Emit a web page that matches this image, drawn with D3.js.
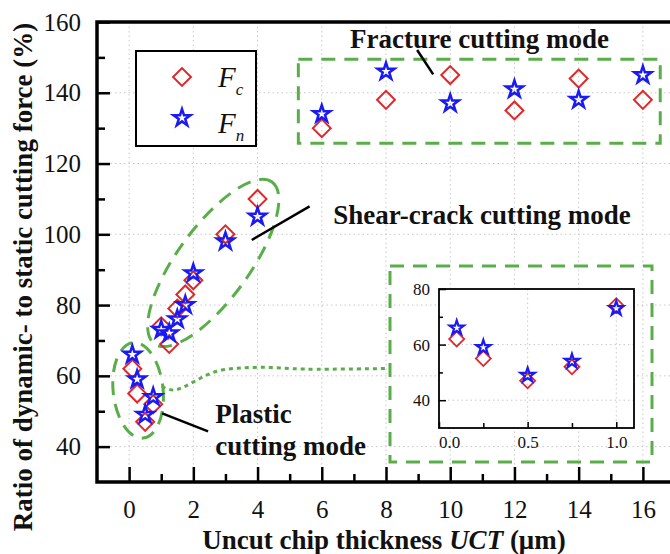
<!DOCTYPE html>
<meta charset="utf-8">
<style>
body { margin: 0; background: #fff; }
svg { font-family: "Liberation Serif", "Times New Roman", serif; }
.grid line { stroke: #c8c8c8; stroke-width: 1; stroke-dasharray: 1.5,3; }
.green { fill: none; stroke: #5aae4a; stroke-width: 3; stroke-dasharray: 14,9; }
.note { font-size: 27px; font-weight: bold; fill: #111; }
.pointer { stroke: #000; stroke-width: 2.5; }
</style>
<svg width="670" height="554"></svg>
<script src="https://d3js.org/d3.v7.min.js"></script>
<script>
// uncut chip thickness (µm) and dynamic/static force ratio (%)
var uct = [0.1, 0.25, 0.5, 0.75, 1, 1.25, 1.5, 1.75, 2, 3, 4, 6, 8, 10, 12, 14, 16];
var fc  = [62, 55, 47, 52, 74, 69, 79, 83, 87, 100, 110, 130, 138, 145, 135, 144, 138];
var fn  = [66, 59, 49, 54, 73, 72, 76, 80, 89, 98, 105, 134, 146, 137, 141, 138, 145];
var xTicks = [0, 2, 4, 6, 8, 10, 12, 14, 16];
var yTicks = [40, 60, 80, 100, 120, 140, 160];
var insetXTicks = [0, 0.5, 1.0];
var insetYTicks = [40, 60, 80];

var serif = '"Liberation Serif", "Times New Roman", serif';
var svg = d3.select("svg");
var red = "#e0282b", blue = "#1a1af5";

var x = d3.scaleLinear().domain([-1, 17]).range([97, 675]);
var y = d3.scaleLinear().domain([30, 160]).range([482, 22]);

var pts = uct.map(function(u, i) { return {x: u, fc: fc[i], fn: fn[i]}; });

// grid
var grid = svg.append("g").attr("class", "grid");
grid.selectAll(".gx").data(xTicks).enter().append("line")
  .attr("x1", d => x(d)).attr("x2", d => x(d)).attr("y1", y(160)).attr("y2", y(30));
grid.selectAll(".gy").data(yTicks.slice(0, -1)).enter().append("line")
  .attr("x1", x(-1)).attr("x2", x(17)).attr("y1", d => y(d)).attr("y2", d => y(d));

var diamond = function(s) { return d3.symbol().type(d3.symbolSquare).size(s)(); };
var star = function(s) { return d3.symbol().type(d3.symbolStar).size(s)(); };

// annotations (in data units)
function P(a, b) { return [x(a), y(b)]; }
svg.append("rect").attr("class", "green")
  .attr("x", x(5.27)).attr("y", y(149.5))
  .attr("width", x(16.54) - x(5.27)).attr("height", y(125.7) - y(149.5));
svg.append("ellipse").attr("class", "green")
  .attr("rx", 25).attr("ry", 48)
  .attr("transform", "translate(" + P(0.28, 55.9) + ") rotate(-6)");
svg.append("ellipse").attr("class", "green")
  .attr("rx", 100).attr("ry", 36)
  .attr("transform", "translate(" + P(2.62, 91.9) + ") rotate(-54)");
var link = [[1.02, 57], [1.4, 56], [2.73, 61.3], [4, 62.4], [5.5, 61.9], [8.13, 62.1]];
svg.append("path")
  .attr("d", d3.line().x(d => x(d[0])).y(d => y(d[1])).curve(d3.curveCatmullRom)(link))
  .attr("fill", "none").attr("stroke", "#5aae4a").attr("stroke-width", 3)
  .attr("stroke-dasharray", "4,4");

// pointers and labels
[[[1.03, 49.4], [2.46, 44.3]], [[3.82, 98.4], [5.62, 107.9]], [[8.97, 152.1], [9.47, 145.2]]]
  .forEach(function(p) {
    svg.append("line").attr("class", "pointer")
      .attr("x1", x(p[0][0])).attr("y1", y(p[0][1]))
      .attr("x2", x(p[1][0])).attr("y2", y(p[1][1]));
  });
var notes = [
  {t: "Fracture cutting mode", x: 6.88, y: 152.6},
  {t: "Shear-crack cutting mode", x: 6.36, y: 103},
  {t: "Plastic", x: 2.68, y: 46.8},
  {t: "cutting mode", x: 2.68, y: 37.7}
];
svg.selectAll(".note").data(notes).enter().append("text").attr("class", "note")
  .attr("x", d => x(d.x)).attr("y", d => y(d.y)).text(d => d.t);

// main markers
svg.append("g").selectAll("path").data(pts).enter().append("path")
  .attr("d", diamond(160))
  .attr("transform", d => "translate(" + x(d.x) + "," + y(d.fc) + ") rotate(45)")
  .attr("fill", "none").attr("stroke", red).attr("stroke-width", 2);
svg.append("g").selectAll("path").data(pts).enter().append("path")
  .attr("d", star(90))
  .attr("transform", d => "translate(" + x(d.x) + "," + y(d.fn) + ")")
  .attr("fill", "none").attr("stroke", blue).attr("stroke-width", 2.5);

// axes
function styleAxis(g, size, w) {
  g.attr("font-family", null).attr("font-size", null);
  g.select(".domain").remove();
  g.selectAll(".tick line").attr("stroke", "#000").attr("stroke-width", w);
  g.selectAll(".tick text").style("font-family", serif).style("font-size", size + "px")
    .attr("fill", "#111");
}
svg.append("g").attr("transform", "translate(" + x(-1) + ",0)")
  .call(d3.axisLeft(y).tickValues(yTicks).tickSize(-13).tickPadding(16)).call(styleAxis, 25, 2.5);
svg.append("g").attr("transform", "translate(" + x(-1) + ",0)")
  .call(d3.axisLeft(y).tickValues([50, 70, 90, 110, 130, 150]).tickSize(-8).tickFormat("")).call(styleAxis, 25, 2.5);
svg.append("g").attr("transform", "translate(0," + y(30) + ")")
  .call(d3.axisBottom(x).tickValues(xTicks).tickSize(-15).tickPadding(18)).call(styleAxis, 25, 2.5);
svg.append("g").attr("transform", "translate(0," + y(30) + ")")
  .call(d3.axisBottom(x).tickValues([1, 3, 5, 7, 9, 11, 13, 15]).tickSize(-8).tickFormat("")).call(styleAxis, 25, 2.5);
svg.append("path")
  .attr("d", "M" + x(17) + "," + y(160) + "H" + x(-1) + "V" + y(30) + "H" + x(17))
  .attr("fill", "none").attr("stroke", "#000").attr("stroke-width", 3.5);

// axis titles
svg.append("text").attr("class", "note")
  .attr("transform", "translate(32,277) rotate(-90)")
  .attr("text-anchor", "middle").text("Ratio of dynamic- to static cutting force (%)");
var xt = svg.append("text").attr("class", "note")
  .attr("x", 384).attr("y", 549).attr("text-anchor", "middle");
xt.append("tspan").text("Uncut chip thickness ");
xt.append("tspan").attr("font-style", "italic").text("UCT");
xt.append("tspan").text(" (\u03bcm)");

// legend
var leg = svg.append("g");
leg.append("rect").attr("x", 136).attr("y", 51).attr("width", 120).attr("height", 95)
  .attr("fill", "#fff").attr("stroke", "#000").attr("stroke-width", 2);
leg.append("path").attr("d", diamond(160)).attr("transform", "translate(182,77) rotate(45)")
  .attr("fill", "none").attr("stroke", red).attr("stroke-width", 2);
leg.append("path").attr("d", star(90)).attr("transform", "translate(182,118)")
  .attr("fill", "none").attr("stroke", blue).attr("stroke-width", 2.5);
[["c", 87], ["n", 133]].forEach(function(s) {
  var t = leg.append("text").attr("x", 218).attr("y", s[1])
    .attr("font-style", "italic").attr("font-size", 29).attr("fill", "#111");
  t.append("tspan").text("F");
  t.append("tspan").attr("font-size", 17).attr("dy", 8).text(s[0]);
});

// inset
var ins = {l: 439, t: 289, w: 195, h: 139};
svg.append("rect").attr("class", "green")
  .attr("x", ins.l - 49).attr("y", ins.t - 23).attr("width", ins.w + 67).attr("height", ins.h + 57);
var gi = svg.append("g");
var xi = d3.scaleLinear().domain([0, 1.1]).range([ins.l, ins.l + ins.w]);
var yi = d3.scaleLinear().domain([30, 80]).range([ins.t + ins.h, ins.t]);
gi.append("rect").attr("x", ins.l).attr("y", ins.t).attr("width", ins.w).attr("height", ins.h)
  .attr("fill", "#fff");
var gg = gi.append("g").attr("class", "grid");
gg.selectAll(".a").data([0.5, 1.0]).enter().append("line")
  .attr("x1", d => xi(d)).attr("x2", d => xi(d)).attr("y1", ins.t).attr("y2", ins.t + ins.h);
gg.selectAll(".b").data([40, 60]).enter().append("line")
  .attr("x1", ins.l).attr("x2", ins.l + ins.w).attr("y1", d => yi(d)).attr("y2", d => yi(d));
var small = pts.filter(d => d.x <= 1);
gi.append("g").selectAll("path").data(small).enter().append("path")
  .attr("d", diamond(112))
  .attr("transform", d => "translate(" + xi(d.x) + "," + yi(d.fc) + ") rotate(45)")
  .attr("fill", "none").attr("stroke", red).attr("stroke-width", 1.8);
gi.append("g").selectAll("path").data(small).enter().append("path")
  .attr("d", star(63))
  .attr("transform", d => "translate(" + xi(d.x) + "," + yi(d.fn) + ")")
  .attr("fill", "none").attr("stroke", blue).attr("stroke-width", 2.2);
gi.append("g").attr("transform", "translate(" + ins.l + ",0)")
  .call(d3.axisLeft(yi).tickValues(insetYTicks).tickSize(-7).tickPadding(9)).call(styleAxis, 17, 1.5);
gi.append("g").attr("transform", "translate(" + ins.l + ",0)")
  .call(d3.axisLeft(yi).tickValues([50, 70]).tickSize(-4).tickFormat("")).call(styleAxis, 17, 1.5);
var xa = gi.append("g").attr("transform", "translate(0," + (ins.t + ins.h) + ")")
  .call(d3.axisBottom(xi).tickValues(insetXTicks).tickSize(-6).tickPadding(8).tickFormat(d3.format(".1f")))
  .call(styleAxis, 17, 1.5);
xa.select(".tick text").attr("dx", 10);
gi.append("g").attr("transform", "translate(0," + (ins.t + ins.h) + ")")
  .call(d3.axisBottom(xi).tickValues([0.25, 0.75]).tickSize(-5).tickFormat("")).call(styleAxis, 17, 1.5);
gi.append("rect").attr("x", ins.l).attr("y", ins.t).attr("width", ins.w).attr("height", ins.h)
  .attr("fill", "none").attr("stroke", "#000").attr("stroke-width", 1.8);
</script>
